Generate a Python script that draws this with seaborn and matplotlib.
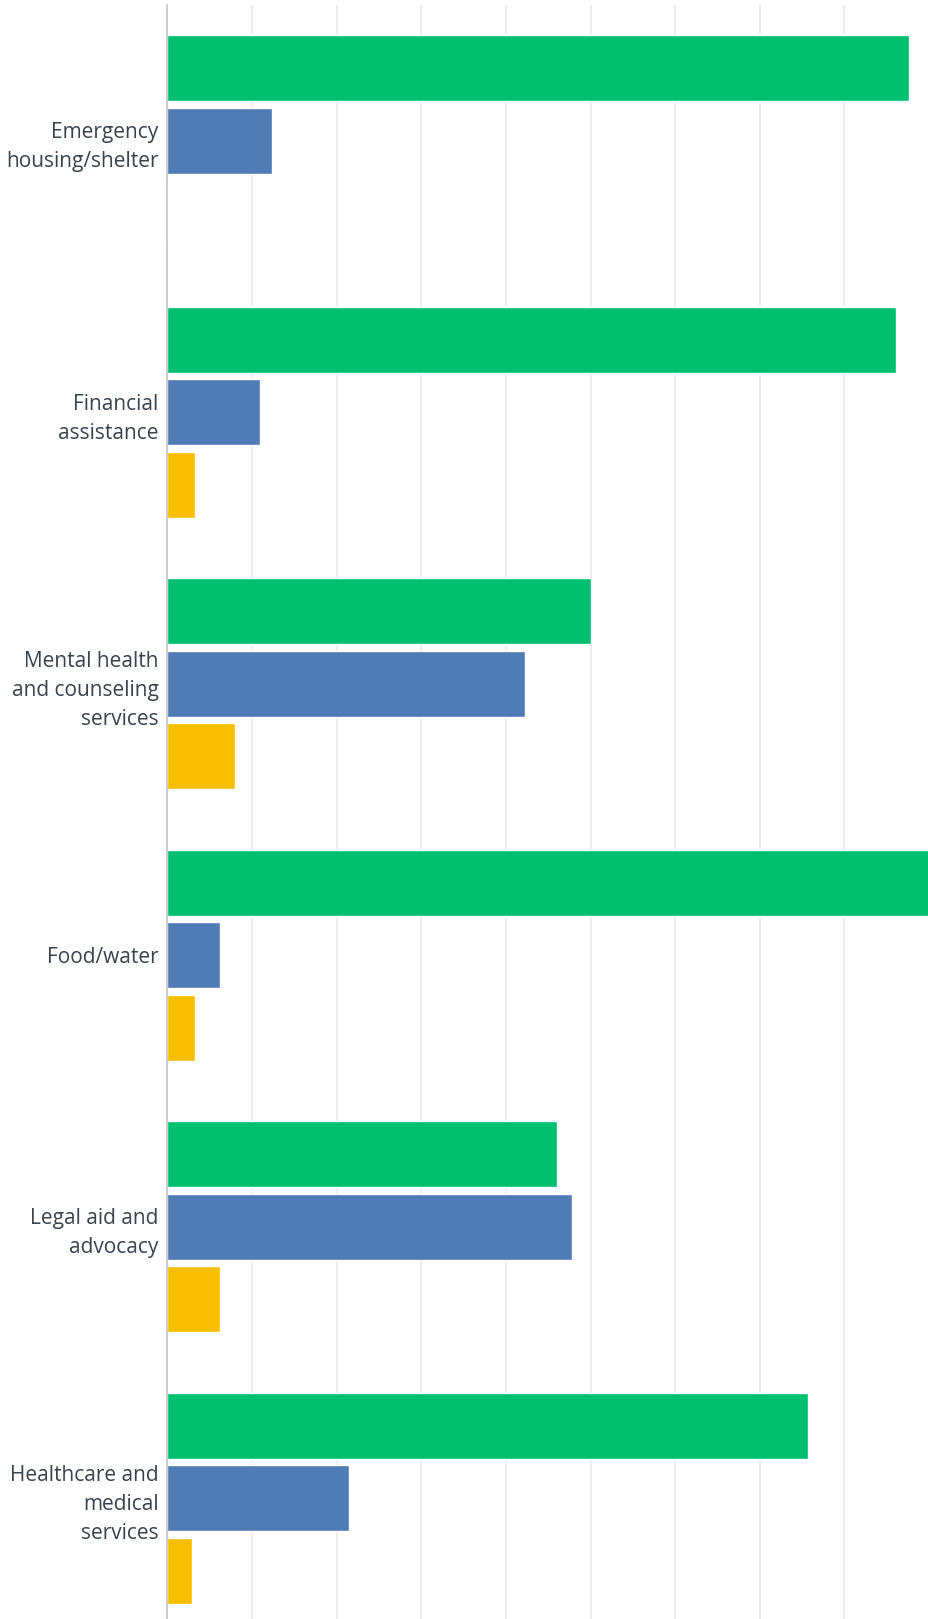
import matplotlib
matplotlib.use('Agg')
import matplotlib.pyplot as plt
import pandas as pd
import seaborn as sns

categories = ['Emergency\nhousing/shelter', 'Financial\nassistance',
              'Mental health\nand counseling\nservices', 'Food/water',
              'Legal aid and\nadvocacy', 'Healthcare and\nmedical\nservices']
series = ['Response 1', 'Response 2', 'Response 3']
green_vals = [87.6, 86.1, 50.0, 91.0, 46.0, 75.7]
blue_vals = [12.3, 10.9, 42.3, 6.2, 47.8, 21.5]
yellow_vals = [0.0, 3.2, 8.0, 3.2, 6.2, 2.9]
colors = ['#00bf6f', '#507cb6', '#f9be00']

df = pd.DataFrame({
    'Category': categories * 3,
    'Series': [s for s in series for _ in categories],
    'Value': green_vals + blue_vals + yellow_vals,
})

sns.set_style('white')
plt.rcParams['font.family'] = ['Open Sans', 'DejaVu Sans']

W, H = 929, 1619
fig = plt.figure(figsize=(W / 100, H / 100), dpi=100)
# axes runs off the right and bottom edges like the cropped original
left = 167.5 / W
top_px, period = 5.0, 271.5
height_px = period * len(categories)
ax = fig.add_axes([left, (H - top_px - height_px) / H, 1 - left, height_px / H])

sns.barplot(data=df, y='Category', x='Value', hue='Series', palette=colors,
            order=categories, hue_order=series, orient='h', width=0.8, gap=0.09,
            saturation=1, legend=False, errorbar=None, ax=ax)

ax.set_xlim(0, (W - 167.5) / 8.63)
ax.set_ylim(len(categories) - 0.5, -0.5)
ax.set_xticks(range(0, 100, 10))
ax.xaxis.grid(True, color='#ececec', linewidth=1.3)
ax.set_axisbelow(True)
for s in ['top', 'right', 'bottom']:
    ax.spines[s].set_visible(False)
ax.spines['left'].set_color('#c8c8c8')
ax.spines['left'].set_linewidth(1.3)
ax.tick_params(axis='x', bottom=False, labelbottom=False)
ax.tick_params(axis='y', left=False, pad=3, labelsize=15, labelcolor='#39434d')
for lbl in ax.get_yticklabels():
    lbl.set_linespacing(1.5)
    lbl.set_horizontalalignment('right')
    lbl.set_multialignment('right')
ax.set_xlabel('')
ax.set_ylabel('')

fig.savefig('out.png', dpi=100)
